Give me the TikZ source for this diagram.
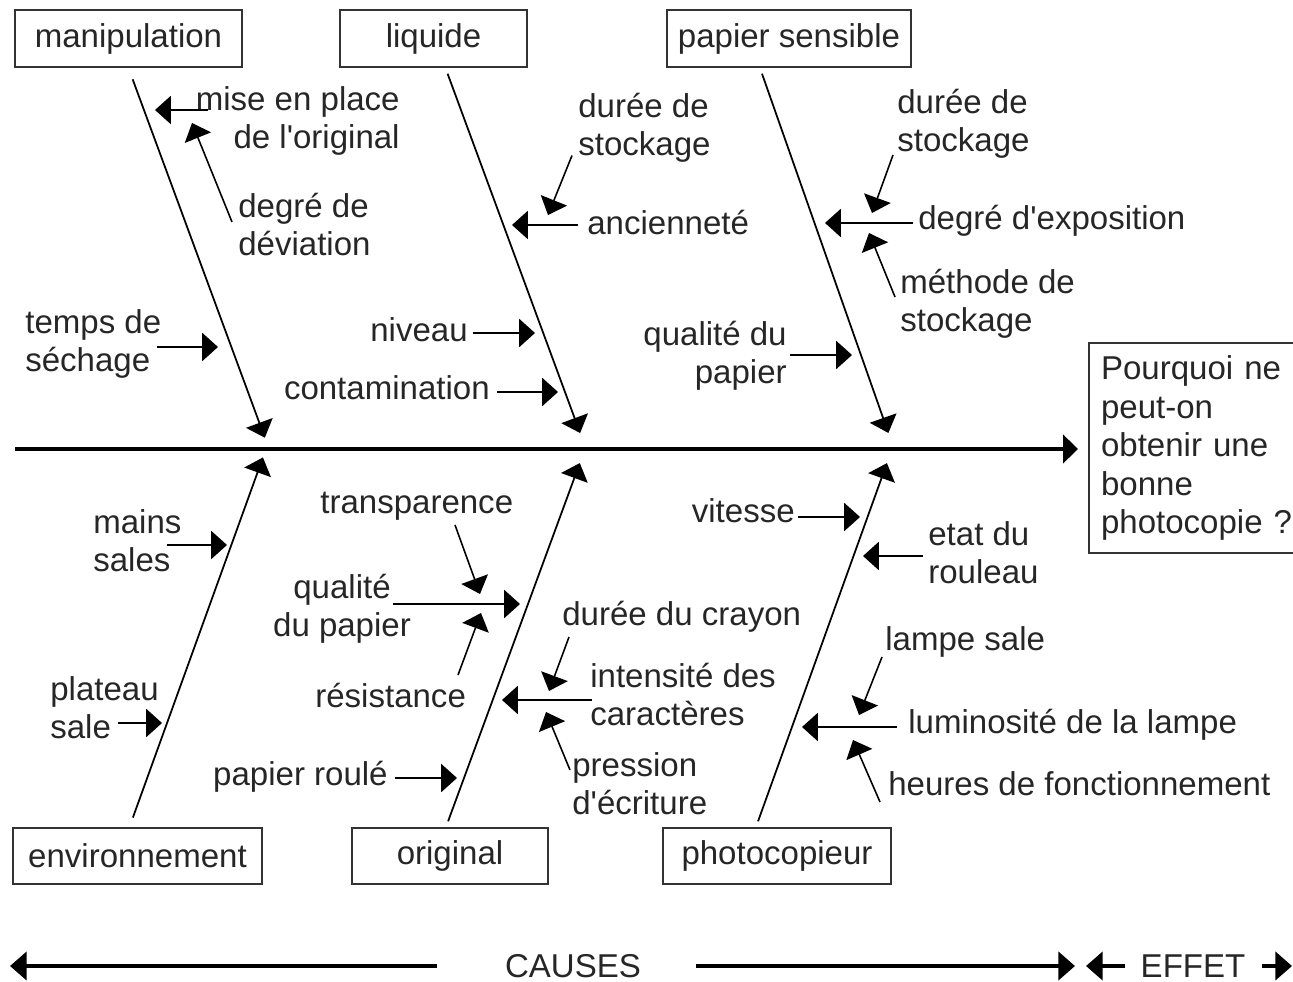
\documentclass[tikz,border=0pt]{standalone}
\usepackage{fontspec}
\setmainfont{Liberation Sans}[Ligatures=TeXOff]
\usetikzlibrary{arrows.meta}
\newlength{\pxu}\setlength{\pxu}{0.02cm}

\begin{document}
\begin{tikzpicture}[x=0.02cm,y=-0.02cm,
  font=\fontsize{18.8pt}{21.9pt}\selectfont,
  lbl/.style={inner sep=4\pxu, text=black!85},
  cause/.style={draw=black!80, line width=1.2pt, minimum height=57\pxu, text=black!85},
  sub/.style={-{Triangle[length=9pt,width=16pt]}, line width=0.9pt},
  bone/.style={-{Triangle[length=9pt,width=16pt]}, line width=1pt},
  spine/.style={-{Triangle[length=8.5pt,width=16pt]}, line width=2.8pt},
  bigarrow/.style={-{Triangle[length=9.5pt,width=16pt]}, line width=2.3pt}]
\useasboundingbox (0,0) rectangle (1293,982);

% categories
\node[cause, minimum width=227\pxu] (manip) at (128.5,38.5) {manipulation};
\node[cause, minimum width=187\pxu] (liq) at (433.5,38.5) {liquide};
\node[cause, minimum width=244\pxu] (papsens) at (789,38.5) {papier sensible};
\node[cause, minimum width=249\pxu, minimum height=56\pxu] (env) at (137.5,856) {environnement};
\node[cause, minimum width=196\pxu, minimum height=56\pxu] (orig) at (450,856) {original};
\node[cause, minimum width=228\pxu, minimum height=56\pxu] (photo) at (777,856) {photocopieur};

% effect
\node[draw=black!80, line width=1.2pt, text=black!85, anchor=north west,
  minimum height=210\pxu, text width=198\pxu, inner xsep=12\pxu, align=left]
  (eff) at (1088,342) {Pourquoi ne\\peut-on\\obtenir une\\bonne\\photocopie ?};

% spine and bones
\coordinate (sp0) at (15,449);
\draw[spine, shorten >=10\pxu] (sp0) -- (sp0 -| eff.west);

\coordinate (ju1) at (269,449);
\coordinate (ju2) at (586,449);
\coordinate (ju3) at (894,449);
\coordinate (jd1) at (266,449);
\coordinate (jd2) at (585,449);
\coordinate (jd3) at (892,449);
\draw[bone, shorten <=12\pxu, shorten >=12\pxu] (manip.south) -- (ju1);
\draw[bone, shorten <=6\pxu, shorten >=17\pxu] ([shift={(12,0)}]liq.south) -- (ju2);
\draw[bone, shorten <=6\pxu, shorten >=17\pxu] ([shift={(-29,0)}]papsens.south) -- (ju3);
\draw[bone, shorten <=10\pxu, shorten >=9\pxu] ([shift={(-8,0)}]env.north) -- (jd1);
\draw[bone, shorten <=6\pxu, shorten >=15\pxu] ([shift={(-4,0)}]orig.north) -- (jd2);
\draw[bone, shorten <=6\pxu, shorten >=15\pxu] ([shift={(-21,0)}]photo.north) -- (jd3);

% sub-causes
\node[lbl, anchor=base east, align=right] (mise) at (404,148.5) {mise en place\\de l'original};
\node[lbl, anchor=base west, align=left] (devi) at (234,255.5) {degré de\\déviation};
\node[lbl, anchor=base west, align=left] (temps) at (21,371.5) {temps de\\séchage};
\node[lbl, anchor=base west, align=left] (dur1) at (574,155.5) {durée de\\stockage};
\node[lbl, anchor=base west] (anc) at (583,235) {ancienneté};
\node[lbl, anchor=base east] (niv) at (472,342) {niveau};
\node[lbl, anchor=base east] (cont) at (494,400) {contamination};
\node[lbl, anchor=base west, align=left] (dur2) at (893,151.5) {durée de\\stockage};
\node[lbl, anchor=base west] (expo) at (914,230) {degré d'exposition};
\node[lbl, anchor=base west, align=left] (meth) at (896,331.5) {méthode de\\stockage};
\node[lbl, anchor=base east, align=right] (qual1) at (791,383.5) {qualité du\\papier};
\node[lbl, anchor=base west, align=left] (mains) at (89,571.5) {mains\\sales};
\node[lbl, anchor=base west, align=left] (plat) at (46,738.5) {plateau\\sale};
\node[lbl, anchor=base west] (trans) at (316,513) {transparence};
\node[lbl, anchor=base, align=center] (qual2) at (342,636.5) {qualité\\du papier};
\node[lbl, anchor=base west] (resi) at (311,707) {résistance};
\node[lbl, anchor=base east] (roul) at (392,785) {papier roulé};
\node[lbl, anchor=base west] (cray) at (558,625) {durée du crayon};
\node[lbl, anchor=base west, align=left] (inte) at (586,725.5) {intensité des\\caractères};
\node[lbl, anchor=base west, align=left] (pres) at (568,814.5) {pression\\d'écriture};
\node[lbl, anchor=base east] (vit) at (799,522) {vitesse};
\node[lbl, anchor=base west, align=left] (etat) at (924,583.5) {etat du\\rouleau};
\node[lbl, anchor=base west] (lamp) at (881,650) {lampe sale};
\node[lbl, anchor=base west] (lumi) at (904,733) {luminosité de la lampe};
\node[lbl, anchor=base west] (heur) at (884,795) {heures de fonctionnement};

\foreach \n/\x/\y in {mise/155/110, devi/192/123, temps/218/347, dur1/548/215,
    anc/512/225, niv/535/333, cont/558/392, dur2/872/213, expo/825/223,
    meth/869/233, qual1/852/355, mains/227/545, plat/162/723, trans/480/594,
    qual2/520/604, resi/481/613, roul/457/778, cray/549/691, inte/502/700,
    pres/546/712, vit/860/517, etat/863/556, lamp/859/715, lumi/802/727,
    heur/853/740}
  \coordinate (t\n) at (\x,\y);

\draw[sub] ([shift={(-196,-38.5)}]mise.base east) -- (tmise);
\draw[sub] ([shift={(-2,-33.5)}]devi.base west) -- (tdevi);
\draw[sub] ([shift={(136,-24.5)}]temps.base west) -- (ttemps);
\draw[sub] ([shift={(-2,0)}]dur1.base west) -- (tdur1);
\draw[sub] ([shift={(-5,-10)}]anc.base west) -- (tanc);
\draw[sub] ([shift={(1,-9)}]niv.base east) -- (tniv);
\draw[sub] ([shift={(3,-8)}]cont.base east) -- (tcont);
\draw[sub] ([shift={(0,3.5)}]dur2.base west) -- (tdur2);
\draw[sub] ([shift={(-1,-7)}]expo.base west) -- (texpo);
\draw[sub] ([shift={(-1,-34.5)}]meth.base west) -- (tmeth);
\draw[sub] ([shift={(-1,-28.5)}]qual1.base east) -- (tqual1);
\draw[sub] ([shift={(78,-26.5)}]mains.base west) -- (tmains);
\draw[sub] ([shift={(72,-15.5)}]plat.base west) -- (tplat);
\draw[sub] ([shift={(139,12)}]trans.base west) -- (ttrans);
\draw[sub] ([shift={(51,-32.5)}]qual2.base) -- (tqual2);
\draw[sub] ([shift={(147,-32)}]resi.base west) -- (tresi);
\draw[sub] ([shift={(3,-7)}]roul.base east) -- (troul);
\draw[sub] ([shift={(11,12)}]cray.base west) -- (tcray);
\draw[sub] ([shift={(6,-25.5)}]inte.base west) -- (tinte);
\draw[sub] ([shift={(2,-44.5)}]pres.base west) -- (tpres);
\draw[sub] ([shift={(-1,-5)}]vit.base east) -- (tvit);
\draw[sub] ([shift={(-1,-27.5)}]etat.base west) -- (tetat);
\draw[sub] ([shift={(1,7)}]lamp.base west) -- (tlamp);
\draw[sub] ([shift={(-7,-6)}]lumi.base west) -- (tlumi);
\draw[sub] ([shift={(-4,7)}]heur.base west) -- (theur);

% causes / effet
\node[lbl] (causes) at (573,966) {CAUSES};
\node[lbl] (effet) at (1193,966) {EFFET};
\coordinate (cl) at (10,966);
\coordinate (cr) at (1075,966);
\coordinate (el) at (1086,966);
\coordinate (er) at (1292,966);
\draw[bigarrow] ([shift={(-64,0)}]causes.west) -- (cl);
\draw[bigarrow] ([shift={(51,0)}]causes.east) -- (cr);
\draw[bigarrow] ([shift={(-11,0)}]effet.west) -- (el);
\draw[bigarrow] ([shift={(12,0)}]effet.east) -- (er);
\end{tikzpicture}
\end{document}
